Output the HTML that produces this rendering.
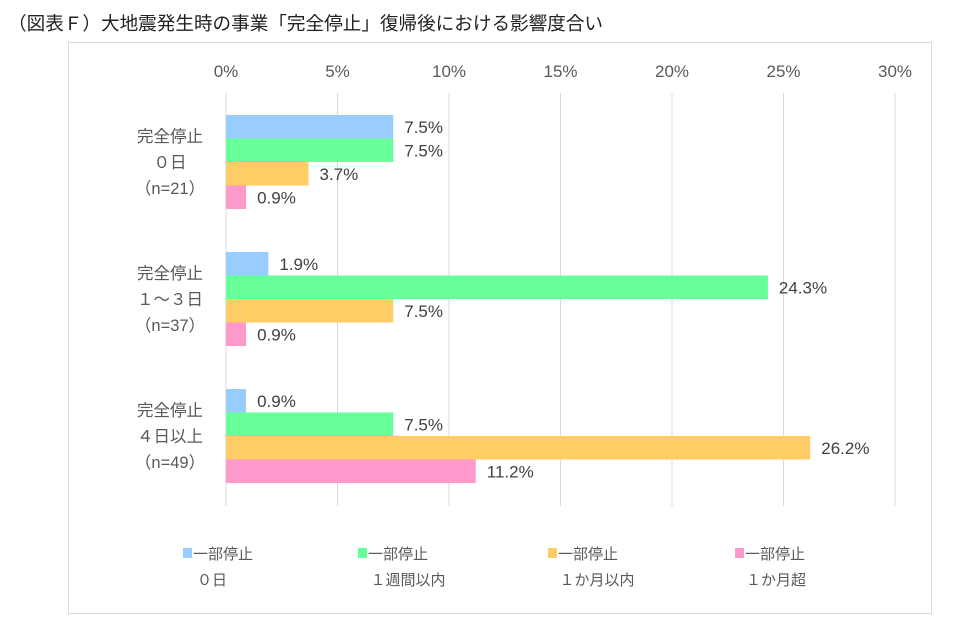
<!DOCTYPE html>
<html><head><meta charset="utf-8"><style>
body{margin:0;background:#fff;}
svg{display:block;font-family:"Liberation Sans","Noto Sans CJK JP",sans-serif;}
</style></head><body>
<svg width="980" height="633" viewBox="0 0 980 633">
<text x="8" y="30" font-size="18.6" fill="#222">（図表Ｆ）大地震発生時の事業「完全停止」復帰後における影響度合い</text>
<rect x="68.5" y="42.5" width="863" height="571" fill="none" stroke="#d9d9d9"/>
<g id="grid"></g><g id="bars"></g><g id="legend"></g>
<script>
const tickLabels=["0%","5%","10%","15%","20%","25%","30%"];
const ticks=[0,5,10,15,20,25,30];
const categories=[["完全停止","０日","（n=21）"],["完全停止","１～３日","（n=37）"],["完全停止","４日以上","（n=49）"]];
const seriesNames=[["一部停止","０日"],["一部停止","１週間以内"],["一部停止","１か月以内"],["一部停止","１か月超"]];
const s0=[7.5,1.9,0.9];
const s1=[7.5,24.3,7.5];
const s2=[3.7,7.5,26.2];
const s3=[0.9,0.9,11.2];
const series=[s0,s1,s2,s3];
const colors=["#99ccff","#66ff99","#ffcc66","#ff99cc"];
const NS="http://www.w3.org/2000/svg";
const x=v=>226+v*(895-226)/30;
const gTop=c=>115+c*137;
const bh=23.5;
function mk(tag,attrs,parent,text){const e=document.createElementNS(NS,tag);for(const k in attrs)e.setAttribute(k,attrs[k]);if(text!==undefined)e.textContent=text;parent.appendChild(e);return e;}
const grid=document.getElementById('grid'),bars=document.getElementById('bars'),leg=document.getElementById('legend');
ticks.forEach((t,i)=>{
 const l=mk('line',{x1:x(t),x2:x(t),y1:93,y2:506,stroke:'#d9d9d9'},grid);
 
 
 const tx=mk('text',{x:x(t),y:77,'text-anchor':'middle','font-size':17,fill:'#595959'},grid,tickLabels[i]);
 
 
});
categories.forEach((cat,c)=>{
 cat.forEach((line,j)=>{
  const t=mk('text',{x:170,y:gTop(c)+27+j*26,'text-anchor':'middle','font-size':16.5,fill:'#595959'},bars,line);
  
  
 });
 series.forEach((s,k)=>{
  const y=gTop(c)+k*bh;
  const r=mk('rect',{x:x(0),y:y,width:x(s[c])-x(0),height:bh,fill:colors[k]},bars);
  
  
  const t=mk('text',{x:x(s[c])+11,y:y+bh/2+6,'font-size':17,fill:'#404040'},bars,s[c].toFixed(1)+'%');
  
  
 });
});
const lx=[183,358,548,735];
const lc=[212,408,597,776];
seriesNames.forEach((n,k)=>{
 const r=mk('rect',{x:lx[k],y:548,width:9,height:10,fill:colors[k]},leg);
 
 
 const t=mk('text',{x:lx[k]+10,y:559,'font-size':15,fill:'#595959'},leg,n[0]);
 
 
 const t2=mk('text',{x:lc[k],y:585,'text-anchor':'middle','font-size':15,fill:'#595959'},leg,n[1]);
 
 
});
</script>
</svg>
</body></html>
